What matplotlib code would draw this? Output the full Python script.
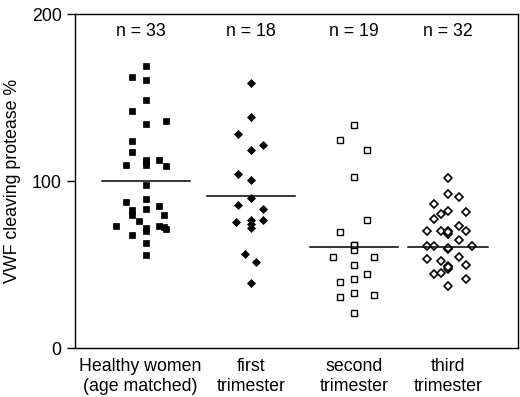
import numpy as np
import matplotlib
matplotlib.use("Agg")
import matplotlib.pyplot as plt

plt.rcParams['font.family'] = ['Liberation Sans', 'DejaVu Sans']

# values (VWF cleaving protease %)
healthy = [169, 162.4, 161, 149, 142.4, 136, 134.4, 124, 117.6, 113, 110, 113,
           109.6, 109, 97.6, 89.6, 87.4, 85, 83, 83.5, 80, 80, 76, 73.4, 72,
           73.4, 71.4, 68, 63, 56, 70, 111.5, 72.5]
first = [159, 138.6, 128.4, 122, 118.6, 104.4, 101, 90, 85.6, 83.4, 75.6,
         76.6, 77, 72, 56.4, 52, 39.4, 74.5]
second = [134, 124.6, 119, 102.4, 76.6, 69.6, 62, 58.6, 54.4, 54.4, 50, 44.6,
          39.6, 41.4, 31, 33.4, 31.8, 21, 62]
third = [102, 92.4, 90.4, 86.7, 82.5, 80.4, 81.6, 77.6, 70.4, 70, 70.4, 68.6,
         73, 70.4, 64.8, 61.4, 61.4, 59.6, 61, 53.6, 52.4, 54.4, 49.4, 47.8,
         49.8, 44.4, 45.4, 41.6, 37.4, 60, 48.5, 69.5]
group_means = [100, 91, 60.6, 60.6]
group_n = [33, 18, 19, 32]
group_labels = ["Healthy women\n(age matched)", "first\ntrimester",
                "second\ntrimester", "third\ntrimester"]

# side-by-side slots of the dots (dot plot columns)
healthy_col = [0, -2, 0, 0, -2, 3, 0, -2, -2, 0, 0, 2, -3, 3, 0, 0, -3, 2, -2,
               0, -2, 2.7, -1, -4.4, 0, 2, 3, -2, 0, 0, 0, 0, 2.7]
first_col = [0, 0, -1.95, 1.7, 0, -1.95, 0, 0, -1.95, 1.7, -2.35, 0, 1.7, 0,
             -1, 0.65, 0, 0]
second_col = [0, -2.1, 2, 0, 2, -2.1, 0, 0, -3.15, 3, 0, 2, -2.1, 0, -2.1, 0,
              3, 0, 0]
third_col = [0, 0, 1.6, -2.1, 0, -1.1, 2.6, -2.1, -3.2, -1.1, 0, 0, 1.6, 2.6,
             1.6, -3.2, -2.1, 0, 3.6, -3.2, -1.1, 1.6, 0, 0, 2.6, -2.1, -1.1,
             2.6, 0, 0, 0, 0]

pos = [1, 2.03, 3.03, 3.95]
slot = 0.065
half = [0.43, 0.43, 0.43, 0.39]

fig = plt.figure(figsize=(5.2, 3.97), dpi=100)
ax = fig.add_axes([0.144, 0.1227, 0.852, 0.8408])

groups = [healthy, first, second, third]
cols = [healthy_col, first_col, second_col, third_col]
styles = [dict(marker='s', ms=5.0, mfc='black', mec='black', mew=0.5),
          dict(marker='D', ms=4.0, mfc='black', mec='black', mew=0.5),
          dict(marker='s', ms=4.5, mfc='white', mec='black', mew=1.0),
          dict(marker='D', ms=3.6, mfc='white', mec='black', mew=1.2)]

for i in range(4):
    x = pos[i] + np.array(cols[i]) * slot
    ax.plot(x, groups[i], linestyle='none', **styles[i])
    ax.plot([pos[i] - half[i], pos[i] + half[i]], [group_means[i]] * 2,
            color='black', lw=1.1)
    ax.text(pos[i] - (0.05 if i == 0 else 0), 190, "n = %d" % group_n[i],
            ha='center', va='center', fontsize=12.8)

ax.set_xlim(0.31, 4.63)
ax.set_ylim(0, 200)
ax.set_yticks([0, 100, 200])
ax.set_xticks([p - (0.05 if i == 0 else 0) for i, p in enumerate(pos)])
ax.set_xticklabels(group_labels, fontsize=12.8, linespacing=1.2)
ax.tick_params(axis='x', length=0, pad=7)
ax.tick_params(axis='y', length=6, width=1, pad=3.5, labelsize=12.8)
ax.set_ylabel("VWF cleaving protease %", fontsize=12.8, labelpad=8)
for s in ax.spines.values():
    s.set_linewidth(1.0)

fig.savefig("out.png", dpi=100)
